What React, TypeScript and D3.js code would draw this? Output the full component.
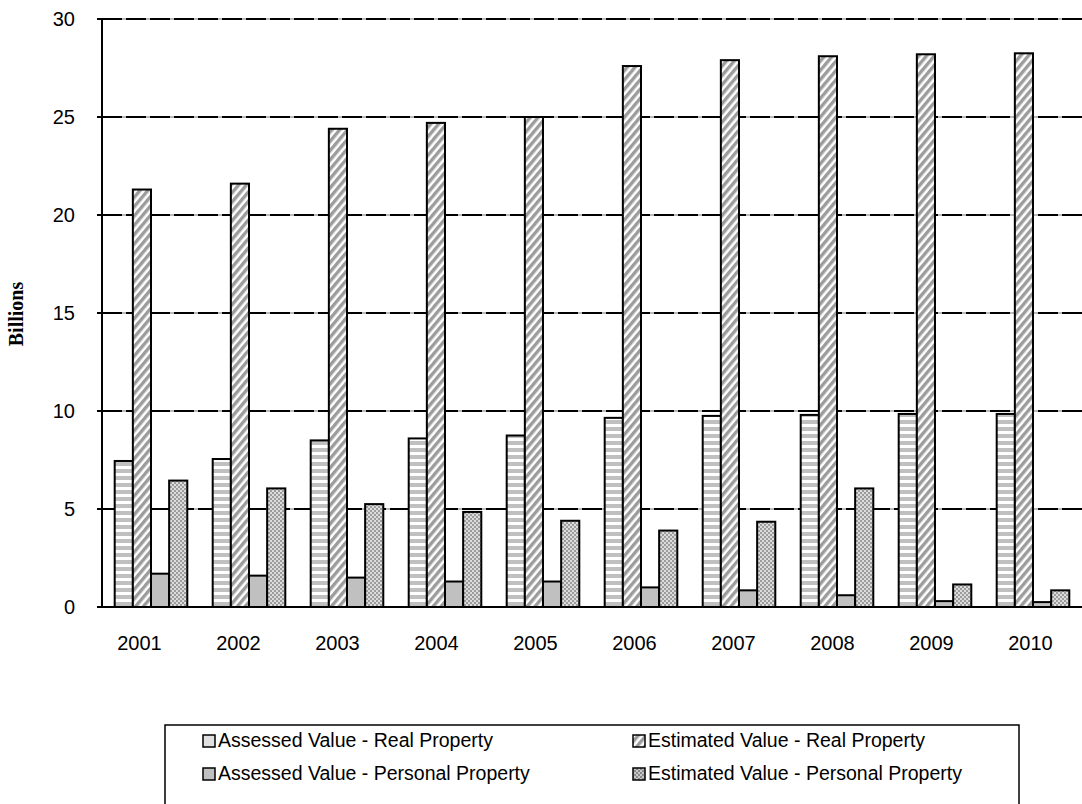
import React from "react";
import * as d3 from "d3";

const years = ["2001", "2002", "2003", "2004", "2005", "2006", "2007", "2008", "2009", "2010"];
const assessedReal = [7.45, 7.55, 8.5, 8.6, 8.75, 9.65, 9.75, 9.8, 9.85, 9.85];
const estimatedReal = [21.3, 21.6, 24.4, 24.7, 25.0, 27.6, 27.9, 28.1, 28.2, 28.25];
const assessedPersonal = [1.7, 1.6, 1.5, 1.3, 1.3, 1.0, 0.85, 0.6, 0.3, 0.25];
const estimatedPersonal = [6.45, 6.05, 5.25, 4.85, 4.4, 3.9, 4.35, 6.05, 1.15, 0.85];
const yTicks = [0, 5, 10, 15, 20, 25, 30];
const seriesNames = [
  "Assessed Value - Real Property",
  "Estimated Value - Real Property",
  "Assessed Value - Personal Property",
  "Estimated Value - Personal Property",
];

const seriesData = [assessedReal, estimatedReal, assessedPersonal, estimatedPersonal];
const fills = ["url(#hstripe)", "url(#dstripe)", "#c0c0c0", "url(#checker)"];

export default function App() {
  const left = 102;
  const right = 1082;
  const top = 19;
  const bottom = 607;
  const x = d3.scaleBand<string>().domain(years).range([left, right]).paddingInner(0).paddingOuter(0);
  const xLabel = d3.scaleBand<string>().domain(years).range([90, 1080]);
  const y = d3.scaleLinear().domain([0, 30]).range([bottom, top]);
  const inner = d3
    .scaleBand<number>()
    .domain([0, 1, 2, 3])
    .range([0, x.bandwidth()])
    .paddingOuter(0.7)
    .paddingInner(0);
  const font = "Arial, 'Liberation Sans', sans-serif";

  return (
    <svg width={1082} height={804} style={{ position: "absolute", left: 0, top: 0, background: "#fff" }}>
      <defs>
        <pattern id="hstripe" width={7} height={7} patternUnits="userSpaceOnUse">
          <rect width={7} height={7} fill="#fff" />
          <rect width={7} height={4} fill="#c0c0c0" />
        </pattern>
        <pattern id="dstripe" width={6} height={6} patternUnits="userSpaceOnUse" patternTransform="rotate(40)">
          <rect width={6} height={6} fill="#fff" />
          <rect width={3.4} height={6} fill="#9c9c9c" />
        </pattern>
        <pattern id="checker" width={4} height={4} patternUnits="userSpaceOnUse">
          <rect width={4} height={4} fill="#dcdcdc" />
          <rect width={2} height={2} fill="#9c9c9c" />
          <rect x={2} y={2} width={2} height={2} fill="#9c9c9c" />
        </pattern>
        <pattern id="legcheck" width={4} height={4} patternUnits="userSpaceOnUse">
          <rect width={4} height={4} fill="#c8c8c8" />
          <rect width={2} height={2} fill="#888" />
          <rect x={2} y={2} width={2} height={2} fill="#888" />
        </pattern>
      </defs>

      {/* gridlines */}
      {yTicks
        .filter((t) => t > 0)
        .map((t) => (
          <g key={t}>
            <line x1={left} x2={right} y1={y(t)} y2={y(t)} stroke="#bbb" strokeWidth={2} />
            <line
              x1={left}
              x2={right}
              y1={y(t)}
              y2={y(t)}
              stroke="#000"
              strokeWidth={2}
              strokeDasharray="20 4"
            />
          </g>
        ))}

      {/* bars */}
      {seriesData.map((vals, si) =>
        vals.map((v, i) => {
          const bx = (x(years[i]) ?? 0) + (inner(si) ?? 0);
          const w = inner.bandwidth();
          return (
            <rect
              key={`${si}-${i}`}
              x={bx}
              y={y(v)}
              width={w}
              height={y(0) - y(v)}
              fill={fills[si]}
              stroke="#000"
              strokeWidth={2}
            />
          );
        })
      )}

      {/* axes */}
      <line x1={left} x2={left} y1={top} y2={bottom} stroke="#000" strokeWidth={2} />
      <line x1={left - 1} x2={right} y1={bottom} y2={bottom} stroke="#000" strokeWidth={2} />
      {yTicks.map((t) => (
        <g key={t}>
          <line x1={left - 5} x2={left} y1={y(t)} y2={y(t)} stroke="#000" strokeWidth={2} />
          <text x={75} y={y(t) + 7} textAnchor="end" fontFamily={font} fontSize={20} fill="#000">
            {t}
          </text>
        </g>
      ))}
      {years.map((yr) => (
        <text
          key={yr}
          x={(xLabel(yr) ?? 0) + xLabel.bandwidth() / 2}
          y={650}
          textAnchor="middle"
          fontFamily={font}
          fontSize={20}
          fill="#000"
        >
          {yr}
        </text>
      ))}
      <text
        transform={`translate(23, 314) rotate(-90)`}
        textAnchor="middle"
        fontFamily="'Times New Roman', 'Liberation Serif', serif"
        fontWeight="bold"
        fontSize={20}
        fill="#000"
      >
        Billions
      </text>

      {/* legend */}
      <rect x={165} y={725} width={854} height={90} fill="#fff" stroke="#000" strokeWidth={1.5} />
      {seriesNames.map((name, i) => {
        const col = i % 2;
        const row = Math.floor(i / 2);
        const lx = col === 0 ? 203 : 633;
        const base = row === 0 ? 747 : 780;
        const lf = i === 3 ? "url(#legcheck)" : i === 1 ? "url(#dstripe)" : i === 0 ? "#e0e0e0" : "#c0c0c0";
        return (
          <g key={name}>
            <rect x={lx} y={base - 12} width={12} height={12} fill={lf} stroke="#000" strokeWidth={1.5} />
            <text x={lx + 15} y={base} fontFamily={font} fontSize={19.5} fill="#000">
              {name}
            </text>
          </g>
        );
      })}
    </svg>
  );
}
